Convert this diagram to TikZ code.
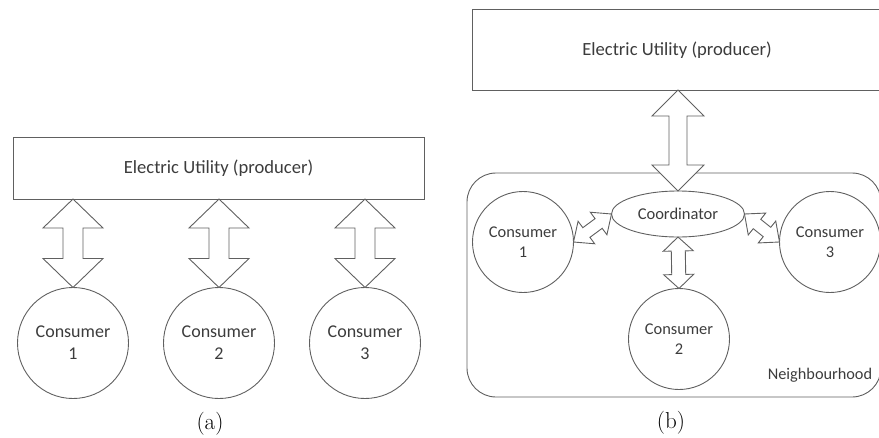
\documentclass[tikz,border=0pt]{standalone}
\usepackage{fontspec}
\newfontfamily\carl{Carlito}
\usetikzlibrary{calc,shapes.geometric}
\definecolor{linec}{HTML}{606060}
\definecolor{textc}{HTML}{3C3C3C}
\newcommand\dblarr[5]{%
  \draw[barrow] (#1) -- ($(#1)!#3!(#2)!#4!90:(#2)$) -- ($(#1)!#3!(#2)!#5!90:(#2)$)
  -- ($(#2)!#3!(#1)!#5!-90:(#1)$) -- ($(#2)!#3!(#1)!#4!-90:(#1)$) -- (#2)
  -- ($(#2)!#3!(#1)!#4!90:(#1)$) -- ($(#2)!#3!(#1)!#5!90:(#1)$)
  -- ($(#1)!#3!(#2)!#5!-90:(#2)$) -- ($(#1)!#3!(#2)!#4!-90:(#2)$) -- cycle;}
\begin{document}
\begin{tikzpicture}[x=1pt,y=-1pt,
  every node/.style={inner sep=0pt,outer sep=0pt,text=textc},
  box/.style={draw=linec,line width=0.9pt,rectangle},
  cons/.style={draw=linec,line width=0.9pt,circle,align=center},
  barrow/.style={draw=linec,line width=0.9pt,fill=white,line join=miter},
  bigtxt/.style={font=\carl\fontsize{18.6}{21}\selectfont},
  cA/.style={cons,minimum size=111pt,font=\carl\fontsize{18}{22}\selectfont},
  cB/.style={cons,minimum size=101pt,font=\carl\fontsize{16.4}{20}\selectfont},
  captxt/.style={font=\fontsize{23}{26}\selectfont,text=black}]
\useasboundingbox (0,0) rectangle (879,437);
% ---------- panel (a)
\node[box,minimum width=411pt,minimum height=62pt,bigtxt] (utilA) at (218.5,168) {Electric Utility (producer)};
\node[cA] (ca1) at (73,343) {Consumer\\1};
\node[cA] (ca2) at (219,343) {Consumer\\2};
\node[cA] (ca3) at (365,343) {Consumer\\3};
\foreach \i in {1,2,3}{
  \coordinate (ta\i) at (ca\i.north |- utilA.south);
  \coordinate (ba\i) at (ca\i.north);
  \dblarr{ta\i}{ba\i}{29pt}{30pt}{10pt}
}
\node[captxt] (capA) at (210,424) {(a)};
% ---------- panel (b)
\node[box,minimum width=416pt,minimum height=81pt,bigtxt] (utilB) at (680,49.5) {};
\node[bigtxt] (utilBt) at (677,50) {Electric Utility (producer)};
\node[draw=linec,line width=0.9pt,rounded corners=29pt,minimum width=414pt,minimum height=224pt] (nbh) at (674,285) {};
\node[font=\carl\fontsize{16.3}{20}\selectfont,anchor=center] (nbht) at (820,375) {Neighbourhood};
\node[draw=linec,line width=0.9pt,ellipse,minimum width=133pt,minimum height=46pt,font=\carl\fontsize{16.5}{20}\selectfont] (coord) at (678,214) {Coordinator};
\node[cB] (cb1) at (523,242) {Consumer\\1};
\node[cB] (cb2) at (679,339) {Consumer\\2};
\node[cB] (cb3) at (830,242) {Consumer\\3};
\coordinate (tb) at (coord.north |- utilB.south);
\dblarr{tb}{coord.north}{26pt}{26pt}{9pt}
\dblarr{coord.south}{cb2.north}{14pt}{15pt}{7pt}
\dblarr{cb1.east}{coord.west}{16pt}{14pt}{6pt}
\dblarr{coord.east}{cb3.west}{16pt}{14pt}{6pt}
\node[captxt] (capB) at (671,423) {(b)};
\end{tikzpicture}
\end{document}
